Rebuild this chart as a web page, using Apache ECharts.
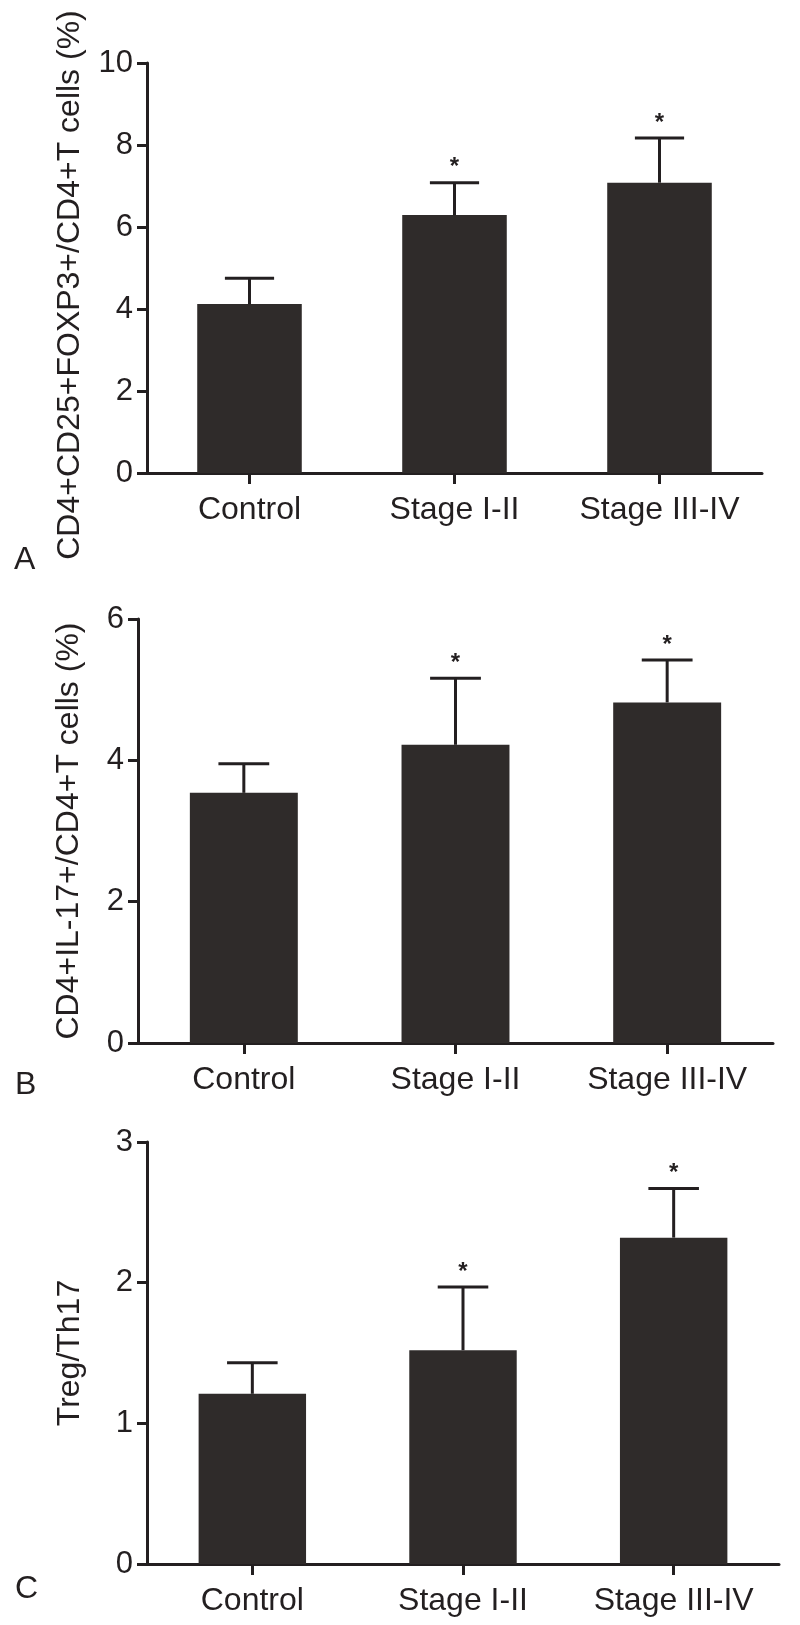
<!DOCTYPE html>
<html>
<head>
<meta charset="utf-8">
<script src="https://cdn.jsdelivr.net/npm/echarts@6/dist/echarts.min.js"></script>
<style>
html,body{margin:0;padding:0;background:#fff;}
#chart{width:800px;height:1625px;}
</style>
</head>
<body>
<div id="chart"></div>
<script>
// ---- data ----
const categories = ['Control', 'Stage I-II', 'Stage III-IV'];
const tregMean = [4.12, 6.29, 7.08];
const tregErrTop = [4.75, 7.08, 8.17];
const th17Mean = [3.54, 4.22, 4.82];
const th17ErrTop = [3.95, 5.16, 5.42];
const ratioMean = [1.21, 1.52, 2.32];
const ratioErrTop = [1.43, 1.97, 2.67];
const significant = [false, true, true];
const yTicksA = [0, 2, 4, 6, 8, 10];
const yTicksB = [0, 2, 4, 6];
const yTicksC = [0, 1, 2, 3];
const yNames = ['CD4+CD25+FOXP3+/CD4+T cells (%)', 'CD4+IL-17+/CD4+T cells (%)', 'Treg/Th17'];
const panelLetters = ['A', 'B', 'C'];

// ---- styling ----
const FONT = "'Liberation Sans', Arial, Helvetica, sans-serif";
const INK = '#231f20';
const BAR = '#2f2b2a';

const chart = echarts.init(document.getElementById('chart'), null, {renderer: 'canvas'});

const grids = [
  {left: 147, top: 63, width: 615, height: 410, outerBoundsMode: 'none', containLabel: false},
  {left: 138, top: 619, width: 635, height: 424, outerBoundsMode: 'none', containLabel: false},
  {left: 147, top: 1142, width: 632, height: 422, outerBoundsMode: 'none', containLabel: false}
];
const tickSets = [yTicksA, yTicksB, yTicksC];
const means = [tregMean, th17Mean, ratioMean];
const tops = [tregErrTop, th17ErrTop, ratioErrTop];
const nameGaps = [61, 53, 61];
const namePads = [[0, 34, 0, 0], [0, 0, 0, 0], [0, 0, 0, 0]];

const xAxes = [], yAxes = [], series = [];
grids.forEach((g, i) => {
  const ticks = tickSets[i];
  xAxes.push({
    type: 'category', gridIndex: i, data: categories,
    axisLine: {lineStyle: {color: INK, width: 3}},
    axisTick: {show: true, alignWithLabel: true, interval: 0, length: 11, lineStyle: {color: INK, width: 3}},
    axisLabel: {color: INK, fontFamily: FONT, fontSize: 32, margin: 21, interval: 0, hideOverlap: false}
  });
  yAxes.push({
    type: 'value', gridIndex: i,
    min: ticks[0], max: ticks[ticks.length - 1], interval: ticks[1] - ticks[0],
    name: yNames[i], nameLocation: 'middle', nameGap: nameGaps[i], nameRotate: 90,
    nameTextStyle: {color: INK, fontFamily: FONT, fontSize: 32, padding: namePads[i]},
    axisLine: {show: true, lineStyle: {color: INK, width: 3}},
    axisTick: {show: true, length: 10, lineStyle: {color: INK, width: 3}},
    axisLabel: {color: INK, fontFamily: FONT, fontSize: 31, margin: 14},
    splitLine: {show: false}
  });
  series.push({
    type: 'bar', xAxisIndex: i, yAxisIndex: i,
    data: means[i], barWidth: '51%',
    itemStyle: {color: BAR}, silent: true
  });
  series.push({
    type: 'custom', xAxisIndex: i, yAxisIndex: i, z: 5, silent: true,
    data: categories.map((c, k) => [k, tops[i][k], means[i][k], significant[k] ? 1 : 0]),
    renderItem: function (params, api) {
      const k = api.value(0);
      const pm = api.coord([k, api.value(2)]);
      const pt = api.coord([k, api.value(1)]);
      const half = api.size([1, 0])[0] * 0.12;
      const style = {stroke: INK, lineWidth: 3};
      const children = [
        {type: 'line', shape: {x1: pm[0], y1: pm[1], x2: pm[0], y2: pt[1]}, style: style},
        {type: 'line', shape: {x1: pm[0] - half, y1: pt[1], x2: pm[0] + half, y2: pt[1]}, style: style}
      ];
      if (api.value(3)) {
        children.push({
          type: 'text',
          style: {text: '*', x: pm[0], y: pt[1] - 3, fill: INK, font: 'bold 24px ' + FONT,
                  textAlign: 'center', textVerticalAlign: 'bottom'}
        });
      }
      return {type: 'group', children: children};
    }
  });
});

const letterPos = [[25, 561], [26, 1086], [26, 1590]];
const graphics = panelLetters.map((L, i) => ({
  type: 'text', left: letterPos[i][0] - 11, top: letterPos[i][1] - 17,
  style: {text: L, fill: INK, font: '32px ' + FONT}
}));

chart.setOption({
  animation: false,
  backgroundColor: '#ffffff',
  grid: grids,
  xAxis: xAxes,
  yAxis: yAxes,
  series: series,
  graphic: graphics
});
</script>
</body>
</html>
